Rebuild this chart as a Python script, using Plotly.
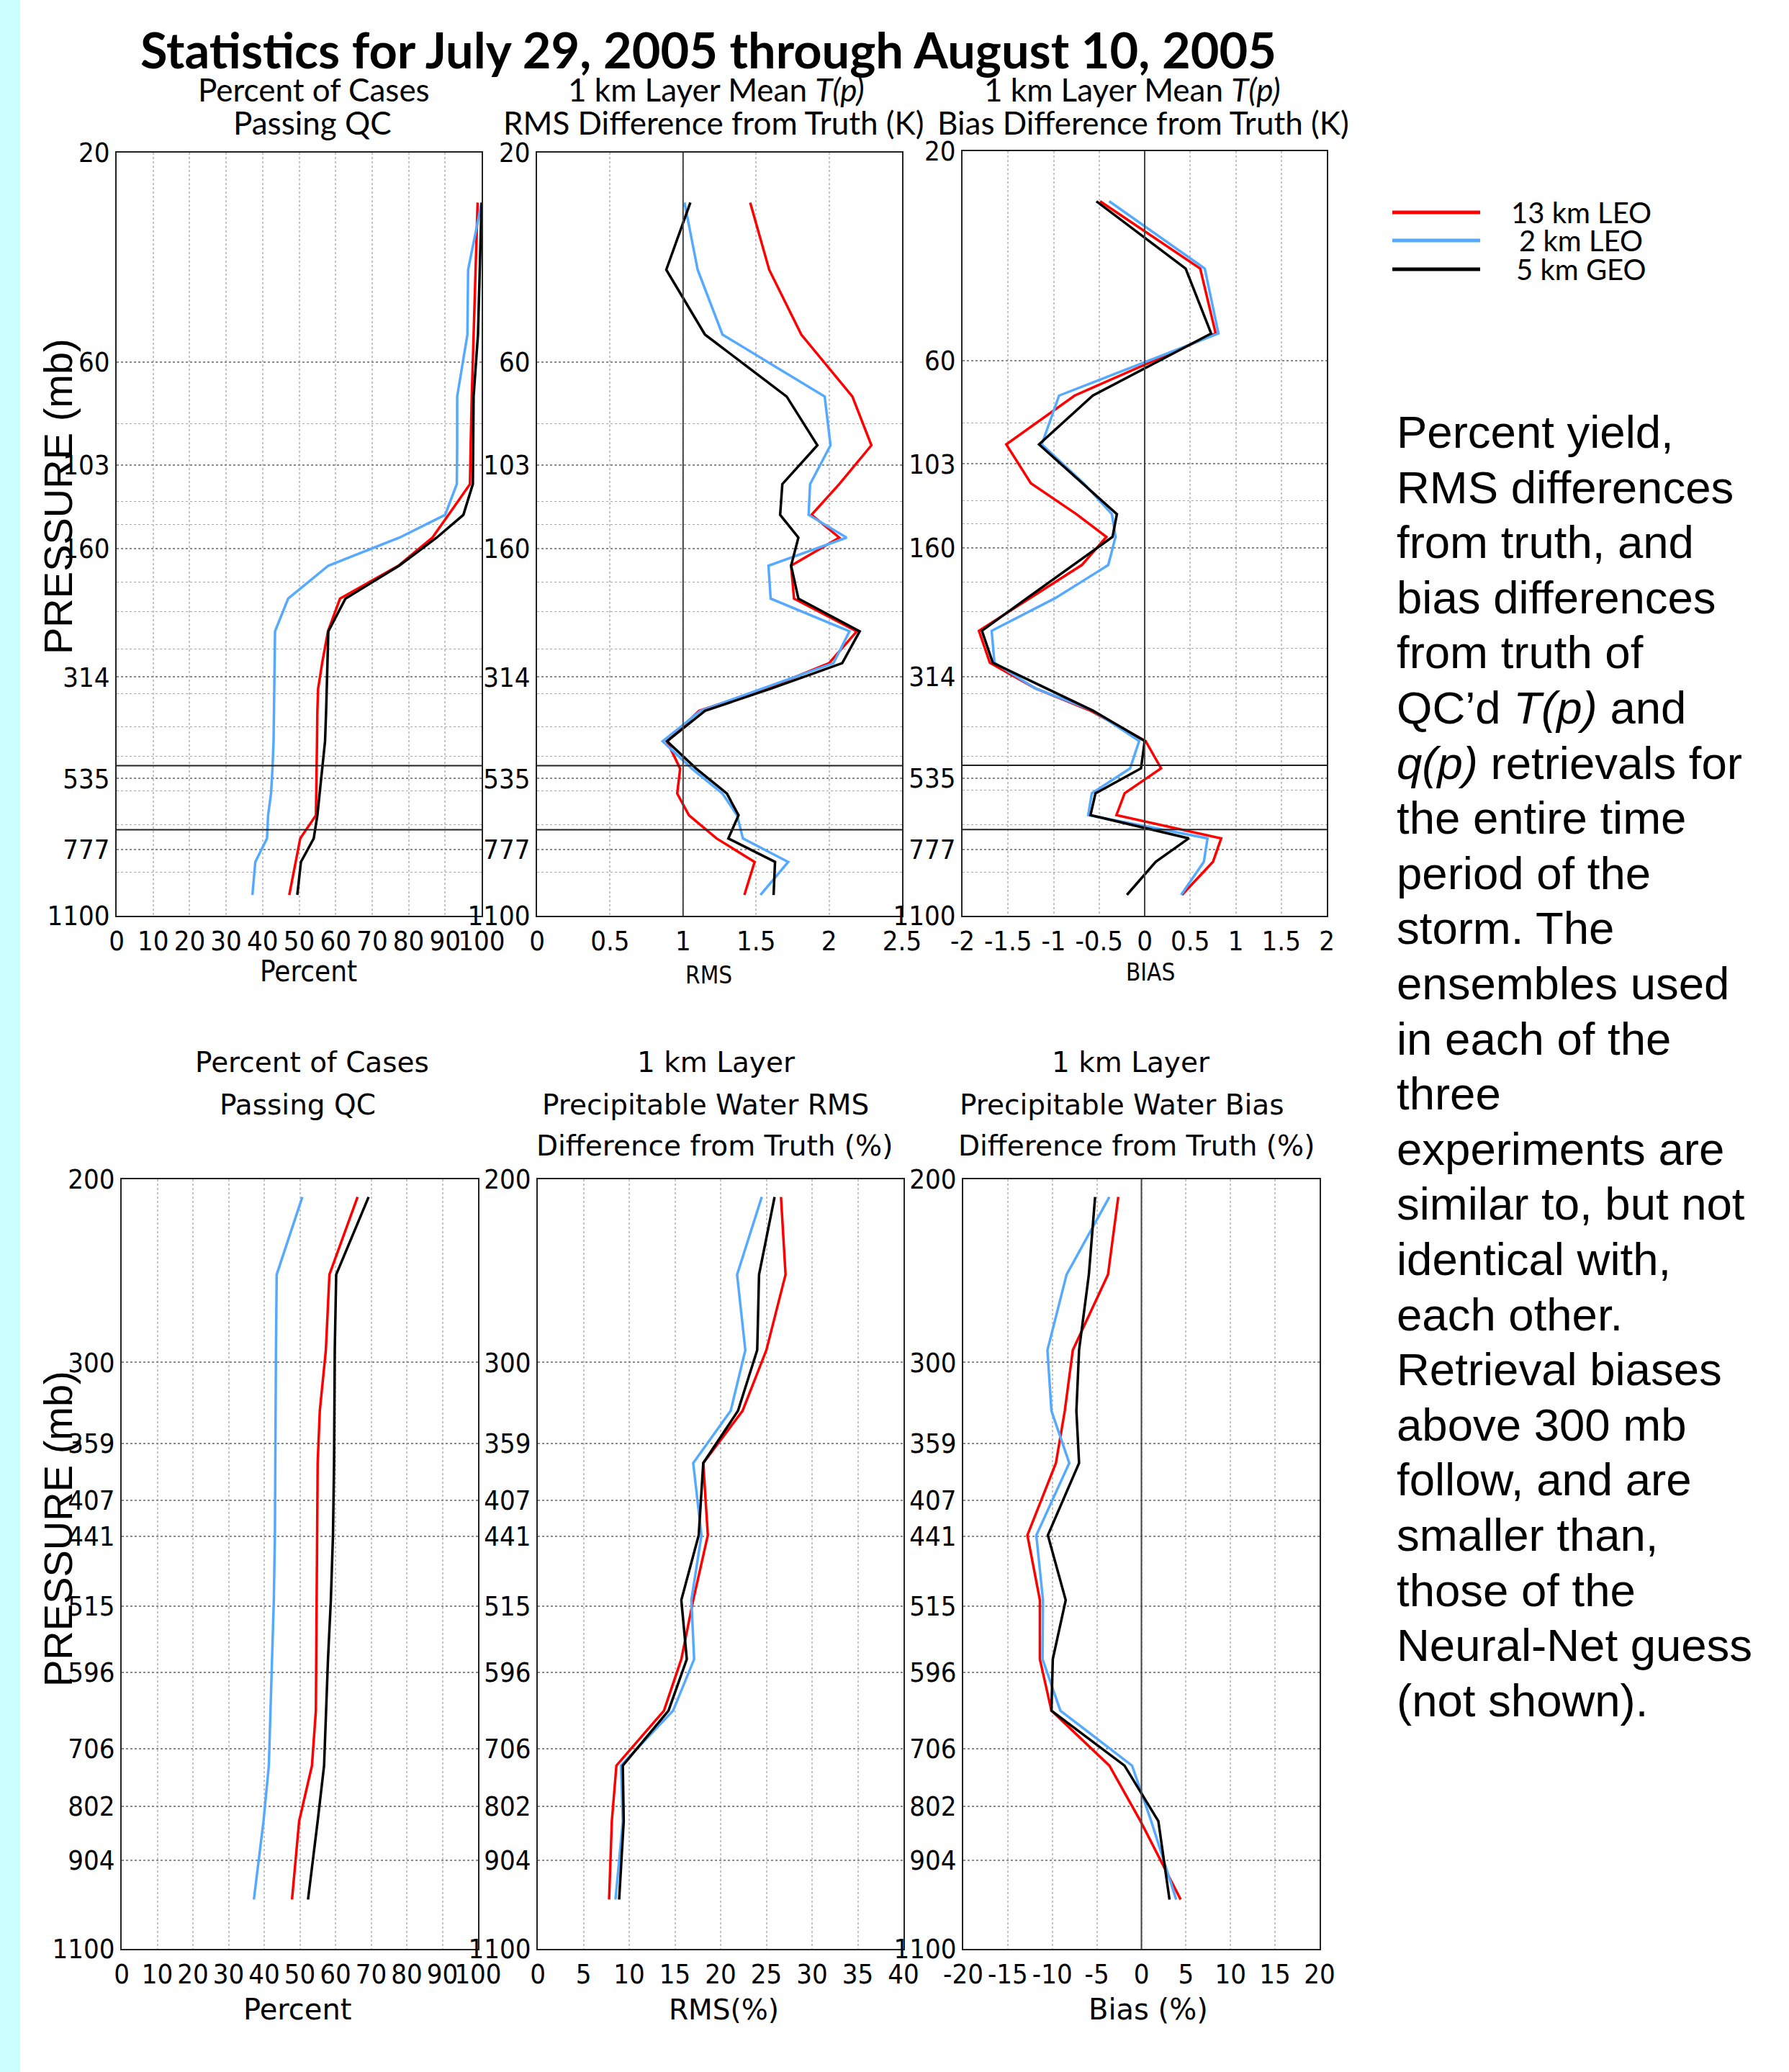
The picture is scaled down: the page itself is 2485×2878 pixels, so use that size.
import numpy as np
import plotly.graph_objects as go

W, H = 2485, 2878

SERIES = ["13 km LEO", "2 km LEO", "5 km GEO"]
COLORS = ["#ff0000", "#55aaff", "#000000"]

# pressure levels (mb) of the 1 km layers
P_UPPER = [26, 37, 52, 72, 93, 114, 134, 151, 175, 208, 247, 292, 334, 375, 440, 508, 579, 649, 733, 829, 986]
P_LOWER = [208, 247, 292, 334, 375, 440, 508, 579, 649, 733, 829, 986]

# --- upper row: temperature retrievals ---
T_PCT_13LEO = [98.9, 98.3, 97.8, 97.3, 97.0, 96.8, 90.9, 86.5, 77.2, 61.2, 57.9, 56.3, 55.2, 55.0, 54.9, 54.8, 54.7, 54.6, 50.3, 49.0, 47.3]
T_PCT_2LEO = [100, 96.3, 96.1, 93.3, 93.3, 93.2, 90.0, 77.5, 58.0, 47.0, 43.4, 43.3, 43.2, 43.1, 43.0, 42.7, 42.3, 41.5, 41.2, 38.0, 37.2]
T_PCT_5GEO = [100, 99.5, 99.0, 97.8, 97.7, 97.6, 95.0, 87.7, 77.4, 62.7, 58.0, 57.8, 57.6, 57.4, 57.1, 56.3, 55.6, 55.0, 54.0, 50.5, 49.5]

T_RMS_13LEO = [1.46, 1.59, 1.81, 2.16, 2.29, 2.07, 1.88, 2.07, 1.74, 1.76, 2.19, 2.00, 1.57, 1.11, 0.89, 0.98, 0.96, 1.04, 1.23, 1.49, 1.42]
T_RMS_2LEO = [1.01, 1.10, 1.27, 1.97, 2.01, 1.87, 1.86, 2.12, 1.585, 1.60, 2.14, 2.03, 1.54, 1.12, 0.86, 1.06, 1.27, 1.37, 1.41, 1.72, 1.53]
T_RMS_5GEO = [1.05, 0.885, 1.15, 1.71, 1.92, 1.68, 1.665, 1.79, 1.74, 1.79, 2.21, 2.09, 1.60, 1.15, 0.89, 1.09, 1.30, 1.38, 1.31, 1.63, 1.62]

T_BIAS_13LEO = [-0.49, 0.61, 0.78, -0.77, -1.52, -1.25, -0.75, -0.42, -0.69, -1.26, -1.82, -1.70, -1.20, -0.60, 0.01, 0.18, -0.22, -0.31, 0.84, 0.75, 0.41]
T_BIAS_2LEO = [-0.39, 0.66, 0.81, -0.94, -1.13, -0.67, -0.36, -0.32, -0.40, -0.98, -1.68, -1.65, -1.20, -0.57, -0.06, -0.16, -0.58, -0.62, 0.69, 0.65, 0.40]
T_BIAS_5GEO = [-0.53, 0.45, 0.73, -0.57, -1.16, -0.68, -0.305, -0.353, -0.79, -1.29, -1.787, -1.668, -1.08, -0.572, 0.0, -0.04, -0.54, -0.595, 0.485, 0.121, -0.195]

# --- lower row: moisture retrievals ---
Q_PCT_13LEO = [66.2, 58.3, 57.3, 55.6, 55.0, 54.8, 54.6, 54.6, 54.5, 53.4, 49.8, 47.8]
Q_PCT_2LEO = [50.7, 43.5, 43.3, 43.2, 43.2, 43.0, 42.7, 42.2, 41.6, 41.3, 39.8, 37.1]
Q_PCT_5GEO = [69.3, 60.2, 59.8, 59.7, 59.6, 59.3, 58.7, 57.9, 57.3, 56.8, 55.0, 52.3]

Q_RMS_13LEO = [26.6, 27.1, 25.0, 22.4, 18.1, 18.6, 17.0, 15.7, 13.8, 8.6, 8.1, 7.8]
Q_RMS_2LEO = [24.5, 21.8, 22.7, 21.1, 17.0, 17.9, 16.8, 17.1, 14.8, 9.1, 9.3, 8.5]
Q_RMS_5GEO = [25.9, 24.2, 24.0, 21.9, 18.1, 17.6, 15.7, 16.3, 14.3, 9.3, 9.4, 8.9]

Q_BIAS_13LEO = [-2.6, -3.75, -7.7, -8.6, -9.6, -12.8, -11.4, -11.4, -10.1, -3.6, -0.1, 4.4]
Q_BIAS_2LEO = [-3.6, -8.4, -10.55, -10.1, -8.1, -11.8, -11.05, -11.1, -9.1, -1.05, 1.1, 3.9]
Q_BIAS_5GEO = [-5.2, -5.9, -7.0, -7.3, -7.0, -10.5, -8.5, -9.95, -10.1, -1.9, 1.9, 3.15]

# tick values
TOP_Y_TICKS = [20, 60, 103, 160, 314, 535, 777, 1100]
TOP_Y_MINOR = [83, 125, 141, 191, 223, 271, 343, 408, 476, 570, 682, 875]
BOT_Y_TICKS = [200, 300, 359, 407, 441, 515, 596, 706, 802, 904, 1100]
PCT_TICKS = [0, 10, 20, 30, 40, 50, 60, 70, 80, 90, 100]
T_RMS_TICKS = [0, 0.5, 1, 1.5, 2, 2.5]
T_BIAS_TICKS = [-2, -1.5, -1, -0.5, 0, 0.5, 1, 1.5, 2]
Q_RMS_TICKS = [0, 5, 10, 15, 20, 25, 30, 35, 40]
Q_BIAS_TICKS = [-20, -15, -10, -5, 0, 5, 10, 15, 20]
T_LEVEL_LINES = [500, 700]

NARROW = "DejaVu Sans Condensed, Liberation Sans Narrow, Arial Narrow, sans-serif"
CAL = "Lato, Open Sans, sans-serif"
WIDE = "DejaVu Sans, Verdana, sans-serif"
ARIAL = "Liberation Sans, Arial, sans-serif"

panels = [
    ("", (162, 669), (212, 1272), PCT_TICKS, TOP_Y_TICKS, 20, TOP_Y_MINOR, P_UPPER,
     [T_PCT_13LEO, T_PCT_2LEO, T_PCT_5GEO]),
    ("2", (746, 1253), (212, 1272), T_RMS_TICKS, TOP_Y_TICKS, 20, TOP_Y_MINOR, P_UPPER,
     [T_RMS_13LEO, T_RMS_2LEO, T_RMS_5GEO]),
    ("3", (1337, 1843), (210, 1272), T_BIAS_TICKS, TOP_Y_TICKS, 20, TOP_Y_MINOR, P_UPPER,
     [T_BIAS_13LEO, T_BIAS_2LEO, T_BIAS_5GEO]),
    ("4", (169, 664), (1638, 2707), PCT_TICKS, BOT_Y_TICKS, 200, [], P_LOWER,
     [Q_PCT_13LEO, Q_PCT_2LEO, Q_PCT_5GEO]),
    ("5", (747, 1255), (1638, 2707), Q_RMS_TICKS, BOT_Y_TICKS, 200, [], P_LOWER,
     [Q_RMS_13LEO, Q_RMS_2LEO, Q_RMS_5GEO]),
    ("6", (1338, 1833), (1638, 2707), Q_BIAS_TICKS, BOT_Y_TICKS, 200, [], P_LOWER,
     [Q_BIAS_13LEO, Q_BIAS_2LEO, Q_BIAS_5GEO]),
]

TICK_SIZE = 38

fig = go.Figure()
layout_axes = {}
for suf, xd, yd, xt, yt, ytop, yminor, plev, series in panels:
    for name, color, vals in zip(SERIES, COLORS, series):
        fig.add_trace(go.Scatter(x=vals, y=plev, mode="lines", name=name,
                                 line=dict(color=color, width=3.5),
                                 xaxis="x" + suf, yaxis="y" + suf, showlegend=False))
    layout_axes["xaxis" + suf] = dict(
        domain=[xd[0] / W, xd[1] / W], anchor="y" + suf, range=[xt[0], xt[-1]],
        tickvals=xt, ticktext=["{:g}".format(v) for v in xt], tickangle=0,
        automargin=False,
        showgrid=True, gridcolor="#c4c4c4", griddash="dot", gridwidth=1.5,
        zeroline=False, showline=True, mirror=True, linecolor="#222", linewidth=2,
        ticks="", tickfont=dict(family=NARROW, size=TICK_SIZE, color="black"))
    ydict = dict(
        domain=[1 - yd[1] / H, 1 - yd[0] / H], anchor="x" + suf, type="log",
        range=[np.log10(1100), np.log10(ytop)], automargin=False,
        tickvals=yt, ticktext=[str(v) for v in yt],
        showgrid=True, gridcolor="#8a8a8a", griddash="dot", gridwidth=1.5,
        zeroline=False, showline=True, mirror=True, linecolor="#222", linewidth=2,
        ticks="", tickfont=dict(family=NARROW, size=TICK_SIZE, color="black"))
    if yminor:
        ydict["minor"] = dict(tickvals=yminor, showgrid=True, gridcolor="#a8a8a8",
                              griddash="dot", gridwidth=1.2, ticks="")
    layout_axes["yaxis" + suf] = ydict

shapes = [dict(type="rect", xref="paper", yref="paper", x0=0, x1=28 / W, y0=0, y1=1,
               fillcolor="#ccffff", line=dict(width=0), layer="below")]
for suf in ["", "2", "3"]:
    for lev in T_LEVEL_LINES:
        shapes.append(dict(type="line", xref="x%s domain" % suf, x0=0, x1=1,
                           yref="y" + suf, y0=lev, y1=lev, line=dict(color="#222", width=2)))
for suf, xv in [("2", 1), ("3", 0), ("6", 0)]:
    shapes.append(dict(type="line", xref="x" + suf, x0=xv, x1=xv, yref="y%s domain" % suf,
                       y0=0, y1=1, line=dict(color="#444", width=2)))

# legend (drawn manually)
LEG_Y = [295, 334, 374]
for color, ly in zip(COLORS, LEG_Y):
    shapes.append(dict(type="line", xref="paper", yref="paper", x0=1934 / W, x1=2056 / W,
                       y0=1 - ly / H, y1=1 - ly / H, line=dict(color=color, width=5)))

def ann(text, x, y, size, family, xanchor="center", yanchor="middle", angle=0, align="center"):
    return dict(text=text, x=x / W, y=1 - y / H, xref="paper", yref="paper", showarrow=False,
                font=dict(size=size, family=family, color="black"), xanchor=xanchor,
                yanchor=yanchor, textangle=angle, align=align)

anns = [
    ann("<b>Statistics for July 29, 2005 through August 10, 2005</b>", 984, 68, 68.5, CAL),
    ann("Percent of Cases", 436, 124, 44, CAL), ann("Passing QC", 434, 170, 44, CAL),
    ann("1 km Layer Mean <i>T(p)</i>", 995, 124, 44, CAL),
    ann("RMS Difference from Truth (K)", 991, 170, 44, CAL),
    ann("1 km Layer Mean <i>T(p)</i>", 1573, 124, 44, CAL),
    ann("Bias Difference from Truth (K)", 1588, 170, 44, CAL),
    ann("Percent", 428, 1349, 40, NARROW), ann("RMS", 984, 1354, 33, NARROW),
    ann("BIAS", 1598, 1351, 33, NARROW),
    ann("PRESSURE (mb)", 80, 690, 56, ARIAL, angle=-90),
    ann("PRESSURE (mb)", 80, 2124, 56, ARIAL, angle=-90),
    ann("Percent of Cases", 433, 1475, 39, WIDE), ann("Passing QC", 413, 1534, 39, WIDE),
    ann("1 km Layer", 995, 1475, 39, WIDE), ann("Precipitable Water RMS", 980, 1534, 39, WIDE),
    ann("Difference from Truth (%)", 993, 1591, 39, WIDE),
    ann("1 km Layer", 1571, 1475, 39, WIDE), ann("Precipitable Water Bias", 1558, 1534, 39, WIDE),
    ann("Difference from Truth (%)", 1578, 1591, 39, WIDE),
    ann("Percent", 413, 2791, 40, WIDE), ann("RMS(%)", 1006, 2791, 39, WIDE),
    ann("Bias (%)", 1595, 2791, 40, WIDE),
]
for name, ly in zip(SERIES, LEG_Y):
    anns.append(ann(name, 2196, ly, 40, CAL))

TEXT_LINES = ["Percent yield,", "RMS differences", "from truth, and", "bias differences",
              "from truth of", "QC\u2019d <i>T(p)</i> and", "<i>q(p)</i> retrievals for",
              "the entire time", "period of the", "storm. The", "ensembles used",
              "in each of the", "three", "experiments are", "similar to, but not",
              "identical with,", "each other.", "Retrieval biases", "above 300 mb",
              "follow, and are", "smaller than,", "those of the", "Neural-Net guess",
              "(not shown)."]
for i, line in enumerate(TEXT_LINES):
    anns.append(ann(line, 1938, 600 + i * 76.6, 63.5, ARIAL, xanchor="left"))

fig.update_layout(width=W, height=H, margin=dict(l=0, r=0, t=0, b=0, autoexpand=False),
                  paper_bgcolor="white", plot_bgcolor="white", showlegend=False,
                  shapes=shapes, annotations=anns, **layout_axes)

fig.write_html("out.html", config={"displayModeBar": False},
               post_script="document.body.style.margin='0';")
